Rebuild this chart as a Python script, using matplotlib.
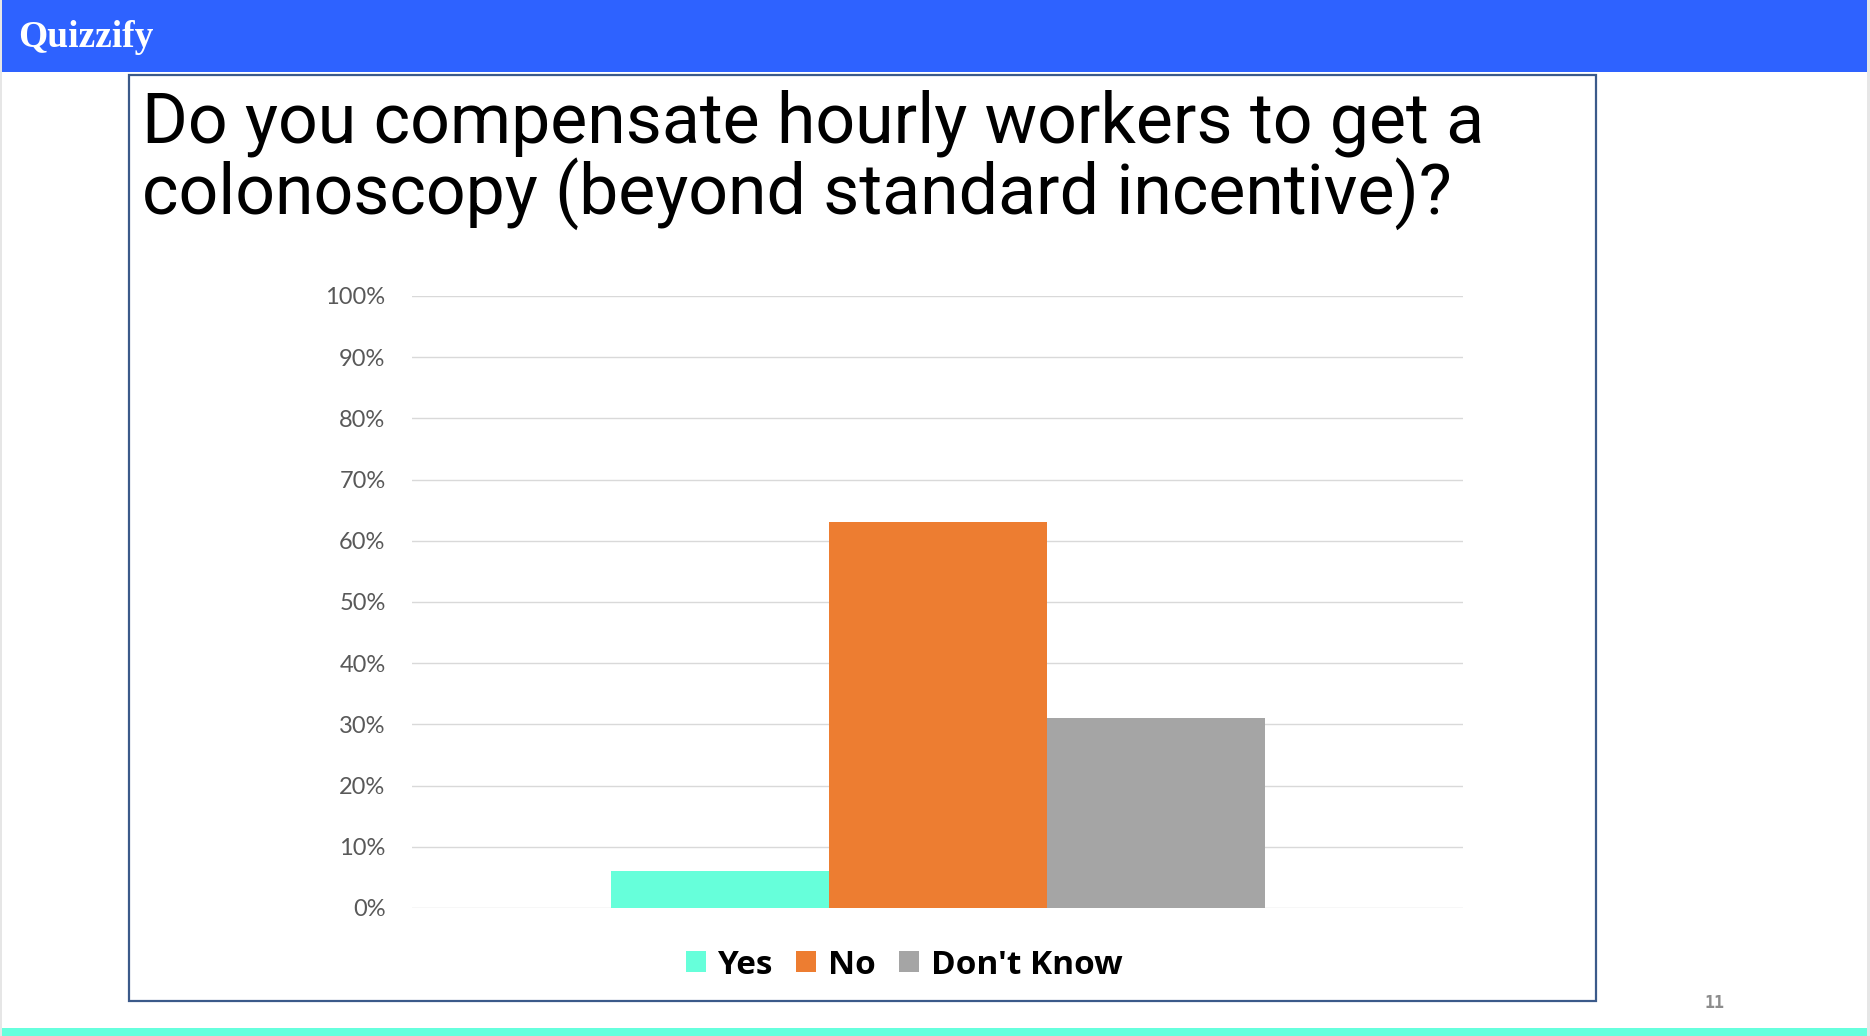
import matplotlib.pyplot as plt
from matplotlib.patches import Rectangle
from matplotlib.ticker import MultipleLocator, FuncFormatter

# survey answers (% of respondents)
answers = ["Yes", "No", "Don't Know"]
shares = [6, 63, 31]
colors = ["#66FFDA", "#ED7D31", "#A5A5A5"]

title_lines = ["Do you compensate hourly workers to get a",
               "colonoscopy (beyond standard incentive)?"]

W, H = 1870, 1036
fig = plt.figure(figsize=(W / 100, H / 100), dpi=100)
fig.patch.set_facecolor("white")


def fx(px):
    return px / W


def fy(py):
    # pixel row from the top -> figure fraction
    return 1 - py / H


# slide decorations
fig.add_artist(Rectangle((0, fy(72)), 1, 72 / H, transform=fig.transFigure,
                         facecolor="#2E62FF", edgecolor="none", zorder=0))
fig.add_artist(Rectangle((0, 0), 1, 8 / H, transform=fig.transFigure,
                         facecolor="#66FFDD", edgecolor="none", zorder=0))
fig.add_artist(Rectangle((fx(129), fy(1001)), fx(1596 - 129), (1001 - 75) / H,
                         transform=fig.transFigure, facecolor="none",
                         edgecolor="#3B5A8A", linewidth=1.6, zorder=1))
fig.add_artist(Rectangle((0, 0), fx(2), 1, transform=fig.transFigure,
                         facecolor="#E6E6E6", edgecolor="none", zorder=0))
fig.add_artist(Rectangle((fx(1867), 0), fx(3), 1, transform=fig.transFigure,
                         facecolor="#E6E6E6", edgecolor="none", zorder=0))

fig.text(fx(18), fy(47), "Quizzify", family="Liberation Serif", weight="bold",
         fontsize=27, color="white", va="baseline", ha="left")
fig.text(fx(1714), fy(1003), "11", family="DejaVu Sans Mono", weight="bold",
         fontsize=12, color="#8C8C8C", va="center", ha="center")

fig.text(fx(142), fy(142), title_lines[0], family="Roboto", fontsize=50.3,
         color="black", va="baseline", ha="left")
fig.text(fx(142), fy(214), title_lines[1], family="Roboto", fontsize=50.3,
         color="black", va="baseline", ha="left")

# chart
ax = fig.add_axes([fx(412), fy(908), fx(1463 - 412), (908 - 296) / H])
half = (1463 - 412) / 218 / 2
pos = [-1, 0, 1]
bars = []
for p, lab, v, c in zip(pos, answers, shares, colors):
    bars.append(ax.bar(p, v, width=1.0, color=c, label=lab, zorder=3))

ax.set_xlim(-half, half)
ax.set_ylim(0, 100)
ax.yaxis.set_major_locator(MultipleLocator(10))
ax.yaxis.set_major_formatter(FuncFormatter(lambda v, _: f"{v:.0f}%"))
ax.grid(axis="y", color="#D9D9D9", linewidth=1.0, zorder=0)
ax.set_xticks([])
ax.tick_params(axis="y", length=0, pad=19, labelsize=17, labelcolor="#595959")
for t in ax.get_yticklabels():
    t.set_family("Lato")
for s in ax.spines.values():
    s.set_visible(False)
ax.set_facecolor("none")

fig.legend(handles=[b[0] for b in bars], labels=answers, loc="center",
           bbox_to_anchor=(fx(904), fy(965)), ncol=3, frameon=False,
           prop={"family": "Open Sans", "weight": "bold", "size": 24},
           handlelength=0.6, handleheight=0.6, handletextpad=0.35,
           columnspacing=0.7, borderaxespad=0)

fig.savefig("out.png", dpi=100)
